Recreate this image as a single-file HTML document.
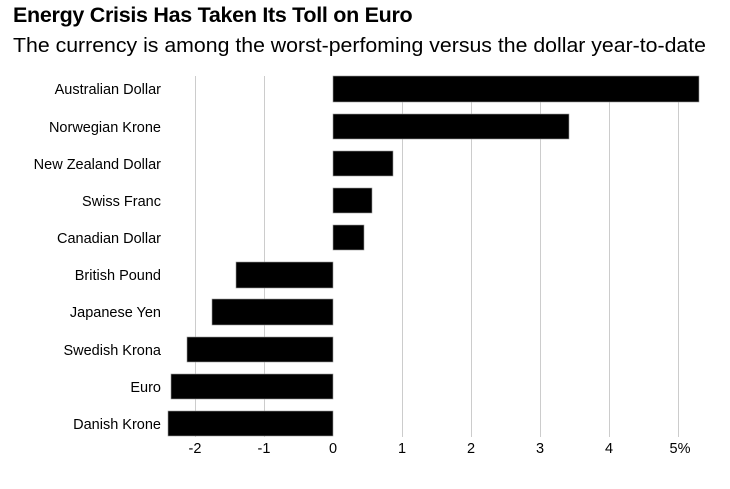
<!DOCTYPE html>
<html><head><meta charset="utf-8"><style>
body{margin:0;background:#fff;width:730px;height:484px;overflow:hidden;font-family:"Liberation Sans",Arial,sans-serif}
</style></head><body>
<svg width="730" height="484" xmlns="http://www.w3.org/2000/svg" font-family="Liberation Sans, Arial, sans-serif">
<text x="13" y="22" font-size="21.5" font-weight="bold" fill="#000" letter-spacing="-0.3">Energy Crisis Has Taken Its Toll on Euro</text>
<text x="13" y="52" font-size="20.5" fill="#000" textLength="693" lengthAdjust="spacingAndGlyphs">The currency is among the worst-perfoming versus the dollar year-to-date</text>
<g stroke="#ccc" stroke-width="1">
<line x1="195.5" y1="76" x2="195.5" y2="437"/>
<line x1="264.5" y1="76" x2="264.5" y2="437"/>
<line x1="402.5" y1="76" x2="402.5" y2="437"/>
<line x1="471.5" y1="76" x2="471.5" y2="437"/>
<line x1="540.5" y1="76" x2="540.5" y2="437"/>
<line x1="609.5" y1="76" x2="609.5" y2="437"/>
<line x1="678.5" y1="76" x2="678.5" y2="437"/>
</g>
<g fill="#000" stroke="#999" stroke-width="0.6">
<rect x="333" y="76" width="366" height="26"/>
<rect x="333" y="114" width="236" height="25"/>
<rect x="333" y="151" width="60" height="25"/>
<rect x="333" y="188" width="39" height="25"/>
<rect x="333" y="225" width="31" height="25"/>
<rect x="236" y="262" width="97" height="26"/>
<rect x="212" y="299" width="121" height="26"/>
<rect x="187" y="337" width="146" height="25"/>
<rect x="171" y="374" width="162" height="25"/>
<rect x="168" y="411" width="165" height="25"/>
</g>
<g font-size="14.5" text-anchor="end" fill="#000">
<text x="161" y="94">Australian Dollar</text>
<text x="161" y="132">Norwegian Krone</text>
<text x="161" y="169">New Zealand Dollar</text>
<text x="161" y="206">Swiss Franc</text>
<text x="161" y="243">Canadian Dollar</text>
<text x="161" y="280">British Pound</text>
<text x="161" y="317">Japanese Yen</text>
<text x="161" y="355">Swedish Krona</text>
<text x="161" y="392">Euro</text>
<text x="161" y="429">Danish Krone</text>
</g>
<g font-size="14.5" text-anchor="middle" fill="#000">
<text x="195" y="453">-2</text>
<text x="264" y="453">-1</text>
<text x="333" y="453">0</text>
<text x="402" y="453">1</text>
<text x="471" y="453">2</text>
<text x="540" y="453">3</text>
<text x="609" y="453">4</text>
<text x="680" y="453">5%</text>
</g>
</svg>
</body></html>
